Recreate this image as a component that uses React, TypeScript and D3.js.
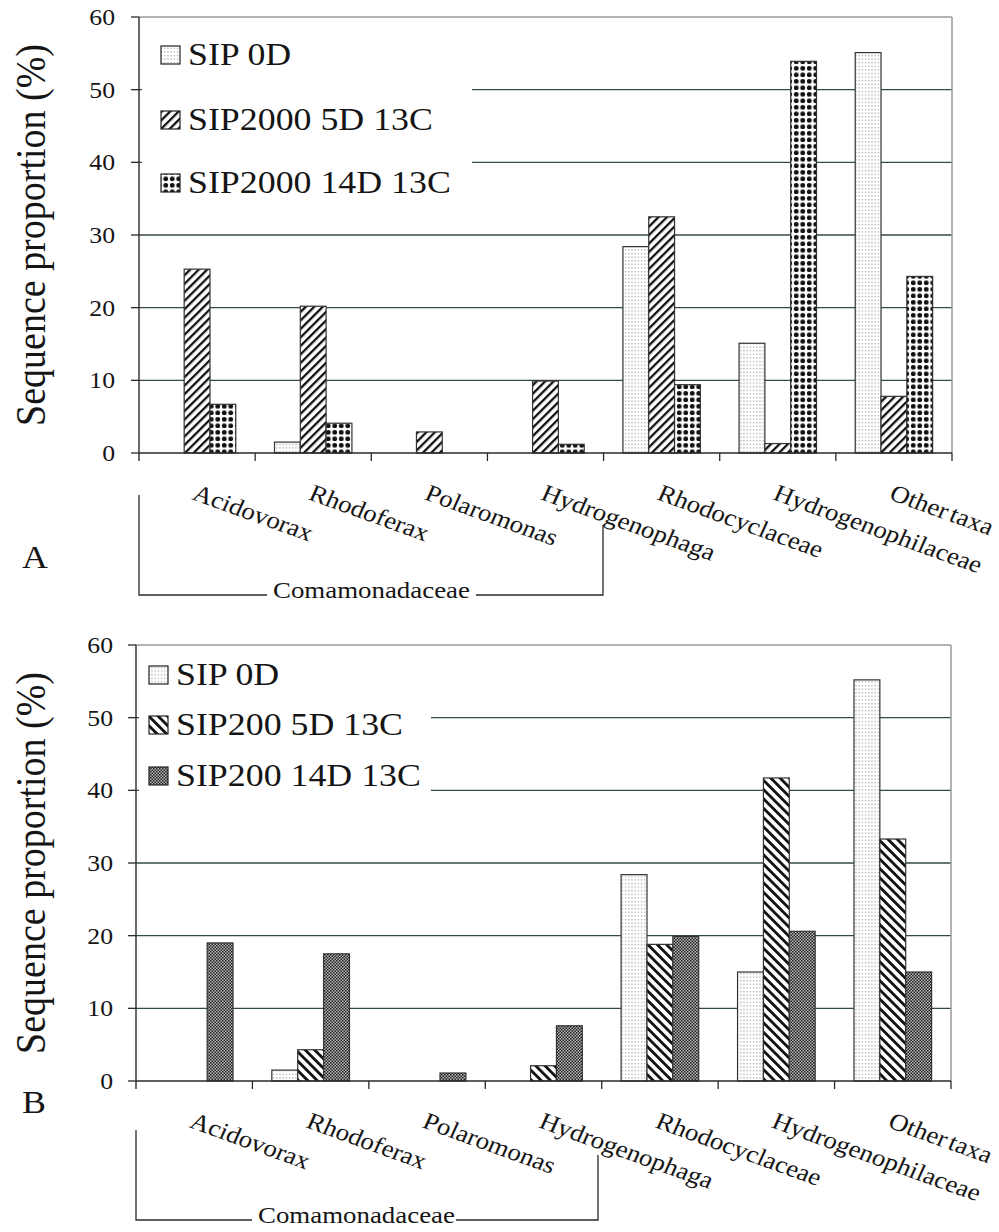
import React from "react";
import * as d3 from "d3";

const categories = ["Acidovorax", "Rhodoferax", "Polaromonas", "Hydrogenophaga", "Rhodocyclaceae", "Hydrogenophilaceae", "Other taxa"];
const yTicks = [0, 10, 20, 30, 40, 50, 60];

const seriesA = ["SIP 0D", "SIP2000 5D 13C", "SIP2000 14D 13C"];
const a0D = [0, 1.5, 0, 0, 28.4, 15.1, 55.1];
const a5D = [25.3, 20.2, 2.9, 9.9, 32.5, 1.3, 7.8];
const a14D = [6.7, 4.1, 0, 1.2, 9.4, 53.9, 24.3];

const seriesB = ["SIP 0D", "SIP200 5D 13C", "SIP200 14D 13C"];
const b0D = [0, 1.5, 0, 0, 28.4, 15.0, 55.2];
const b5D = [0, 4.3, 0, 2.1, 18.8, 41.7, 33.3];
const b14D = [19.0, 17.5, 1.1, 7.6, 19.9, 20.6, 15.0];

const groupLabel = "Comamonadaceae";
const yTitle = "Sequence proportion (%)";

const K = 1.12; // horizontal stretch of the reference text
const FONT = "Liberation Serif, Times New Roman, serif";
const INK = "#151515";
const GRID = "#34494a";

function Patterns() {
  return (
    <defs>
      <pattern id="pDots" width="3.2" height="3.6" patternUnits="userSpaceOnUse">
        <rect width="3.2" height="3.6" fill="#fff" />
        <rect x="1" y="1" width="1.1" height="1.1" fill="#8a8f95" />
      </pattern>
      <pattern id="pFwd" width="6" height="6" patternUnits="userSpaceOnUse" patternTransform="rotate(45)">
        <rect width="6" height="6" fill="#fff" />
        <rect x="0" y="0" width="2.3" height="6" fill="#111" />
      </pattern>
      <pattern id="pDiamond" width="6.5" height="6.5" patternUnits="userSpaceOnUse">
        <rect width="6.5" height="6.5" fill="#fff" />
        <circle cx="3.25" cy="3.25" r="2.4" fill="#111" />
      </pattern>
      <pattern id="pBack" width="6.6" height="6.6" patternUnits="userSpaceOnUse" patternTransform="rotate(-45)">
        <rect width="6.6" height="6.6" fill="#fff" />
        <rect x="0" y="0" width="2.8" height="6.6" fill="#111" />
      </pattern>
      <pattern id="pChecker" width="3" height="3" patternUnits="userSpaceOnUse">
        <rect width="3" height="3" fill="#b8b8b8" />
        <rect x="0" y="0" width="1.5" height="1.5" fill="#1e1e1e" />
        <rect x="1.5" y="1.5" width="1.5" height="1.5" fill="#1e1e1e" />
      </pattern>
    </defs>
  );
}

type PanelProps = {
  left: number; right: number; top: number; bottom: number;
  series: string[]; values: number[][]; fills: string[];
  tickRight: number;
  legendX: number; legendBaselines: number[]; legendBox: [number, number, number, number];
  bracket: { y: number; leftTop: number; rightX: number; rightTop: number; gapL: number; textX: number; gapR: number };
  letter: string; letterY: number;
};

function Panel(p: PanelProps) {
  const x = d3.scaleBand<string>().domain(categories).range([p.left, p.right]).padding(0);
  const y = d3.scaleLinear().domain([0, 60]).range([p.bottom, p.top]);
  const bw = x.bandwidth();
  const barW = bw / 4.5;
  const off = (bw - 3 * barW) / 2;
  const cy = (p.top + p.bottom) / 2;
  const [lbx, lby, lbw, lbh] = p.legendBox;
  return (
    <g>
      {yTicks.filter(t => t > 0 && t < 60).map(t => (
        <line key={"g" + t} x1={p.left} x2={p.right} y1={y(t)} y2={y(t)} stroke={GRID} strokeWidth={1.3} />
      ))}
      <line x1={p.left} x2={p.right} y1={p.top} y2={p.top} stroke="#9a9a9a" strokeWidth={1.5} />
      <line x1={p.right} x2={p.right} y1={p.top} y2={p.bottom} stroke="#9a9a9a" strokeWidth={1.5} />
      <rect x={lbx} y={lby} width={lbw} height={lbh} fill="#fff" />
      {p.values.map((vals, si) =>
        vals.map((v, ci) => v > 0 ? (
          <rect key={`b${si}-${ci}`} x={x(categories[ci])! + off + si * barW} y={y(v)} width={barW} height={y(0) - y(v)}
            fill={p.fills[si]} stroke="#333" strokeWidth={1.2} />
        ) : null)
      )}
      <line x1={p.left} x2={p.left} y1={p.top} y2={p.bottom + 8} stroke="#2a2a2a" strokeWidth={1.4} />
      <line x1={p.left} x2={p.right} y1={p.bottom} y2={p.bottom} stroke="#2a2a2a" strokeWidth={1.4} />
      {yTicks.map(t => (
        <g key={"t" + t}>
          <line x1={p.left - 8} x2={p.left} y1={y(t)} y2={y(t)} stroke="#2a2a2a" strokeWidth={1.3} />
          <text transform={`translate(${p.tickRight},${y(t) + 8}) scale(${K},1)`} textAnchor="end" fontSize={23} fontFamily={FONT} fill={INK}>{t}</text>
        </g>
      ))}
      {categories.map((c, i) => (
        <line key={"xt" + i} x1={x(c)! + bw} x2={x(c)! + bw} y1={p.bottom} y2={p.bottom + 8} stroke="#2a2a2a" strokeWidth={1.3} />
      ))}
      {categories.map((c) => (
        <text key={"xl" + c} transform={`translate(${x(c)! + bw / 2 - 6},${p.bottom + 46}) scale(${K},1) rotate(22)`}
          fontSize={24} wordSpacing={-3} fontFamily={FONT} fill={INK}>{c}</text>
      ))}
      <text transform={`translate(45,${cy}) scale(${K},1) rotate(-90)`} textAnchor="middle" fontSize={38} fontFamily={FONT} fill={INK}>{yTitle}</text>
      {p.series.map((s, i) => (
        <g key={"l" + s}>
          <rect x={p.legendX} y={p.legendBaselines[i] - 19} width={19} height={18} fill={p.fills[i]} stroke="#222" strokeWidth={1.2} />
          <text transform={`translate(${p.legendX + 27},${p.legendBaselines[i]}) scale(${K},1)`} fontSize={32} fontFamily={FONT} fill={INK}>{s}</text>
        </g>
      ))}
      <path d={`M${p.left},${p.bracket.leftTop} V${p.bracket.y} H${p.bracket.gapL} M${p.bracket.gapR},${p.bracket.y} H${p.bracket.rightX} V${p.bracket.rightTop}`}
        fill="none" stroke="#2a2a2a" strokeWidth={1.3} />
      <text transform={`translate(${p.bracket.textX},${p.bracket.y + 3}) scale(${K},1)`} fontSize={24} fontFamily={FONT} fill={INK}>{groupLabel}</text>
      <text transform={`translate(22,${p.letterY}) scale(${K},1)`} fontSize={32} fontFamily={FONT} fill={INK}>{p.letter}</text>
    </g>
  );
}

export default function App() {
  return (
    <svg width={999} height={1232} style={{ position: "absolute", left: 0, top: 0, background: "#fff" }}>
      <Patterns />
      <rect width={999} height={1232} fill="#fff" />
      <Panel left={139} right={952} top={17} bottom={453}
        series={seriesA} values={[a0D, a5D, a14D]} fills={["url(#pDots)", "url(#pFwd)", "url(#pDiamond)"]}
        tickRight={115}
        legendX={161} legendBaselines={[65, 130, 193]} legendBox={[142, 24, 330, 190]}
        bracket={{ y: 595, leftTop: 495, rightX: 603, rightTop: 525, gapL: 267, textX: 273, gapR: 476 }}
        letter="A" letterY={568} />
      <Panel left={136} right={951} top={645} bottom={1081}
        series={seriesB} values={[b0D, b5D, b14D]} fills={["url(#pDots)", "url(#pBack)", "url(#pChecker)"]}
        tickRight={113}
        legendX={149} legendBaselines={[685, 735, 786]} legendBox={[139, 650, 292, 150]}
        bracket={{ y: 1220, leftTop: 1130, rightX: 598, rightTop: 1155, gapL: 252, textX: 258, gapR: 456 }}
        letter="B" letterY={1113} />
    </svg>
  );
}
